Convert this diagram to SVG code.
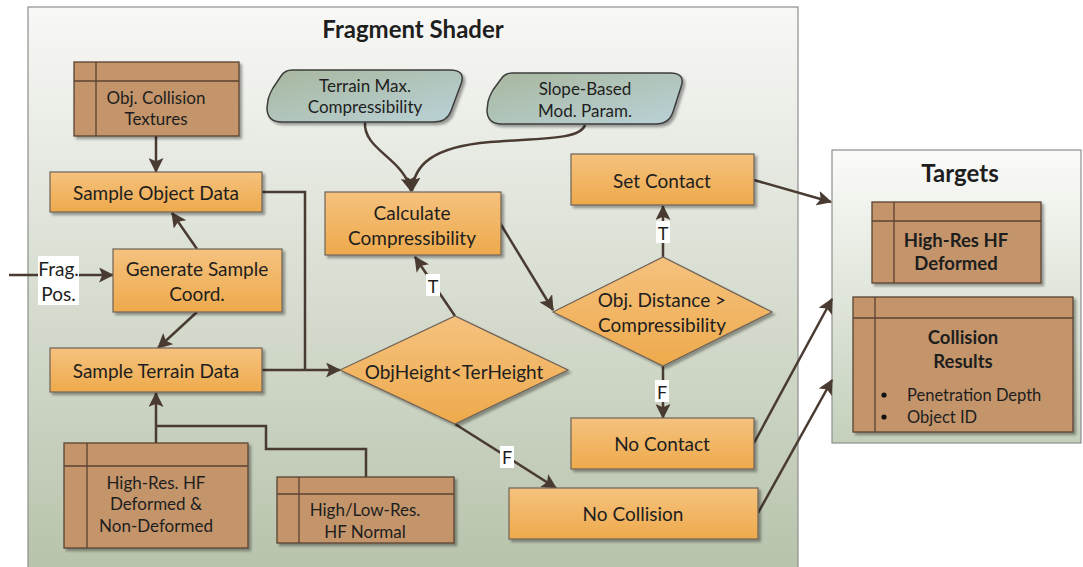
<svg xmlns="http://www.w3.org/2000/svg" width="1083" height="567" viewBox="0 0 1083 567">
  <defs>
    <linearGradient id="gShader" x1="0" y1="0" x2="0" y2="1">
      <stop offset="0" stop-color="#f8f8f6"/>
      <stop offset="1" stop-color="#b6c2aa"/>
    </linearGradient>
    <linearGradient id="gTargets" x1="0" y1="0" x2="0" y2="1">
      <stop offset="0" stop-color="#fbfbf9"/>
      <stop offset="1" stop-color="#c4d0bb"/>
    </linearGradient>
    <linearGradient id="gOrange" x1="0" y1="0" x2="0" y2="1">
      <stop offset="0" stop-color="#f5c27e"/>
      <stop offset="1" stop-color="#eeaa4c"/>
    </linearGradient>
    <linearGradient id="gParam" x1="0" y1="0" x2="1" y2="1">
      <stop offset="0" stop-color="#a8b79e"/>
      <stop offset="1" stop-color="#bad2d8"/>
    </linearGradient>
    <filter id="shadow" x="-10%" y="-10%" width="130%" height="140%">
      <feDropShadow dx="2.5" dy="2.5" stdDeviation="1.2" flood-color="#000" flood-opacity="0.35"/>
    </filter>
    <marker id="arr" viewBox="0 0 14 14" refX="13" refY="7" markerWidth="15" markerHeight="15" orient="auto" markerUnits="userSpaceOnUse">
      <path d="M0,0 L14,7 L0,14 L3,7 Z" fill="#4a3b32"/>
    </marker>
  </defs>
  <style>
    text { font-family: Lato, "Liberation Sans", sans-serif; fill: #1e1e1e; }
    .t { font-size: 19px; text-anchor: middle; dominant-baseline: central; }
    .ts { font-size: 17px; text-anchor: middle; dominant-baseline: central; }
    .tb { font-size: 18.5px; font-weight: bold; text-anchor: middle; dominant-baseline: central; }
    .tl { font-size: 18px; text-anchor: middle; dominant-baseline: central; }
    .title { font-size: 24px; font-weight: bold; text-anchor: middle; dominant-baseline: central; }
    .proc { fill: url(#gOrange); stroke: #6f6257; stroke-width: 1.2; filter: url(#shadow); }
    .store { fill: #c4956a; stroke: #5a4330; stroke-width: 1.3; filter: url(#shadow); }
    .storeline { stroke: #5a4330; stroke-width: 1.3; fill: none; }
    .param { fill: url(#gParam); stroke: #3c3c3c; stroke-width: 1.5; filter: url(#shadow); }
    .conn { fill: none; stroke: #4a3b32; stroke-width: 2.5; }
    .lbl { fill: #ffffff; }
  </style>

  <!-- Fragment shader container -->
  <g id="fragment-shader">
    <rect x="28" y="7" width="770" height="575" fill="url(#gShader)" stroke="#8e8e8e" stroke-width="1.2"/>
    <text class="title" x="413" y="28">Fragment Shader</text>
  </g>

  <!-- Targets container -->
  <g id="targets">
    <rect x="832" y="150" width="249" height="293" fill="url(#gTargets)" stroke="#8e8e8e" stroke-width="1.2"/>
    <text class="title" x="960" y="172">Targets</text>
  </g>

  <!-- Connectors -->
  <g id="connectors">
    <line class="conn" x1="156" y1="136" x2="156" y2="172" marker-end="url(#arr)"/>
    <line class="conn" x1="9" y1="275" x2="113" y2="275" marker-end="url(#arr)"/>
    <line class="conn" x1="197" y1="249" x2="172" y2="213" marker-end="url(#arr)"/>
    <line class="conn" x1="197" y1="312" x2="158" y2="348" marker-end="url(#arr)"/>
    <polyline class="conn" points="262,192 305,192 305,370"/>
    <line class="conn" x1="262" y1="370" x2="340" y2="370" marker-end="url(#arr)"/>
    <polyline class="conn" points="156,443 156,393" marker-end="url(#arr)"/>
    <polyline class="conn" points="156,426 266,426 266,449 366,449 366,477"/>
    <path class="conn" d="M365,122 C363,150 404,158 411,191" marker-end="url(#arr)"/>
    <path class="conn" d="M585,125 C580,140 540,138 490,142 C432,147 414,165 412,191" marker-end="url(#arr)"/>
    <line class="conn" x1="455" y1="316" x2="415" y2="257" marker-end="url(#arr)"/>
    <line class="conn" x1="500" y1="223" x2="553" y2="310" marker-end="url(#arr)"/>
    <line class="conn" x1="663" y1="257" x2="663" y2="206" marker-end="url(#arr)"/>
    <line class="conn" x1="663" y1="366" x2="663" y2="418" marker-end="url(#arr)"/>
    <line class="conn" x1="455" y1="424" x2="556" y2="488" marker-end="url(#arr)"/>
    <line class="conn" x1="754" y1="180" x2="831" y2="202" marker-end="url(#arr)"/>
    <line class="conn" x1="754" y1="443" x2="832" y2="299" marker-end="url(#arr)"/>
    <line class="conn" x1="758" y1="513" x2="832" y2="380" marker-end="url(#arr)"/>
    <!-- branch labels -->
    <rect class="lbl" x="426" y="274" width="14" height="22"/>
    <text class="tl" x="433" y="285.5">T</text>
    <rect class="lbl" x="656" y="221" width="14" height="22"/>
    <text class="tl" x="663" y="232.5">T</text>
    <rect class="lbl" x="655" y="380" width="14" height="22"/>
    <text class="tl" x="662" y="391.5">F</text>
    <rect class="lbl" x="500" y="446" width="14" height="22"/>
    <text class="tl" x="507" y="457">F</text>
    <rect class="lbl" x="38" y="256" width="41" height="49"/>
    <text class="t" x="58.5" y="268">Frag.</text>
    <text class="t" x="58.5" y="293">Pos.</text>
  </g>

  <g id="obj-collision-textures">
    <rect class="store" x="74" y="62" width="165" height="74"/>
    <path class="storeline" d="M96,62 V136 M74,81 H239"/>
    <text class="ts" x="156" y="97">Obj. Collision</text>
    <text class="ts" x="156" y="118">Textures</text>
  </g>

  <g id="sample-object-data">
    <rect class="proc" x="50" y="172" width="212" height="40"/>
    <text class="t" x="156" y="192">Sample Object Data</text>
  </g>

  <g id="generate-sample-coord">
    <rect class="proc" x="113" y="249" width="169" height="63"/>
    <text class="t" x="197" y="268">Generate Sample</text>
    <text class="t" x="197" y="293">Coord.</text>
  </g>

  <g id="sample-terrain-data">
    <rect class="proc" x="50" y="348" width="212" height="44"/>
    <text class="t" x="156" y="370">Sample Terrain Data</text>
  </g>

  <g id="hf-deformed-nondeformed">
    <rect class="store" x="64" y="443" width="184" height="105"/>
    <path class="storeline" d="M87,443 V548 M64,466 H248"/>
    <text class="ts" x="156" y="482">High-Res. HF</text>
    <text class="ts" x="156" y="503">Deformed &amp;</text>
    <text class="ts" x="156" y="525">Non-Deformed</text>
  </g>

  <g id="hf-normal">
    <rect class="store" x="277" y="477" width="177" height="66"/>
    <path class="storeline" d="M299,477 V543 M277,494 H454"/>
    <text class="ts" x="365" y="509">High/Low-Res.</text>
    <text class="ts" x="365" y="531">HF Normal</text>
  </g>

  <g id="terrain-max-compressibility">
    <path class="param" d="M292,70 L450,70 Q466,70 461,84 L451,111 Q447,122 434,122 L282,122 Q267,122 267,108 L268,100 Q269,95 273,88 L281,76 Q285,70 292,70 Z"/>
    <text class="ts" x="365" y="85">Terrain Max.</text>
    <text class="ts" x="365" y="106">Compressibility</text>
  </g>

  <g id="slope-based-param">
    <path class="param" d="M512,73 L670,73 Q686,73 681,87 L673,112 Q669,124 656,124 L502,124 Q487,124 487,110 L488,102 Q489,97 493,90 L501,79 Q505,73 512,73 Z"/>
    <text class="ts" x="585" y="88">Slope-Based</text>
    <text class="ts" x="585" y="110">Mod. Param.</text>
  </g>

  <g id="calculate-compressibility">
    <rect class="proc" x="325" y="192" width="176" height="63"/>
    <text class="t" x="412" y="212">Calculate</text>
    <text class="t" x="412" y="237">Compressibility</text>
  </g>

  <g id="set-contact">
    <rect class="proc" x="571" y="154" width="183" height="51"/>
    <text class="t" x="662" y="180">Set Contact</text>
  </g>

  <g id="objheight-check">
    <polygon class="proc" points="340,370 455,316 568,370 455,424"/>
    <text class="t" x="454" y="371">ObjHeight&lt;TerHeight</text>
  </g>

  <g id="distance-check">
    <polygon class="proc" points="553,312 663,257 772,312 663,366"/>
    <text class="t" x="662" y="299">Obj. Distance &gt;</text>
    <text class="t" x="662" y="324">Compressibility</text>
  </g>

  <g id="no-contact">
    <rect class="proc" x="571" y="418" width="183" height="51"/>
    <text class="t" x="662" y="443">No Contact</text>
  </g>

  <g id="no-collision">
    <rect class="proc" x="509" y="488" width="249" height="51"/>
    <text class="t" x="633" y="513">No Collision</text>
  </g>

  <g id="hf-deformed-target">
    <rect class="store" x="872" y="202" width="169" height="81"/>
    <path class="storeline" d="M894,202 V283 M872,221 H1041"/>
    <text class="tb" x="956" y="240">High-Res HF</text>
    <text class="tb" x="956" y="263">Deformed</text>
  </g>

  <g id="collision-results">
    <rect class="store" x="853" y="297" width="220" height="135"/>
    <path class="storeline" d="M875,297 V432 M853,318 H1073"/>
    <text class="tb" x="963" y="337">Collision</text>
    <text class="tb" x="963" y="361">Results</text>
    <circle cx="884" cy="395" r="2.6" fill="#111"/>
    <circle cx="884" cy="417" r="2.6" fill="#111"/>
    <text font-size="16.5" x="907" y="395" dominant-baseline="central">Penetration Depth</text>
    <text font-size="16.5" x="907" y="417" dominant-baseline="central">Object ID</text>
  </g>
</svg>
